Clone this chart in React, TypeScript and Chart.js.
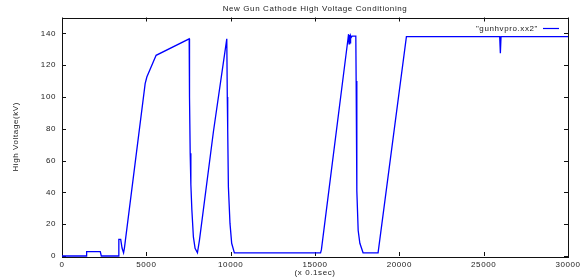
import { useEffect, useRef } from 'react';
import { Chart, registerables } from 'chart.js';

Chart.register(...registerables);

const TITLE = 'New Gun Cathode High Voltage Conditioning';
const X_LABEL = '(x 0.1sec)';
const Y_LABEL = 'High Voltage(kV)';
const SERIES_LABEL = '"gunhvpro.xx2"';

const X_TICKS = [0, 5000, 10000, 15000, 20000, 25000, 30000];
const Y_TICKS = [0, 20, 40, 60, 80, 100, 120, 140];

const timeValues = [
  0, 1440, 1460, 2270, 2330, 3350, 3370, 3480, 3560, 3650, 3700, 4930, 5030, 5580,
  7540, 7560, 7600, 7640, 7700, 7790, 7890, 8030, 8150, 8975, 9770, 9800, 9825, 9865,
  9960, 10060, 10220, 15330, 15380, 16950, 16990, 17020, 17050, 17080, 17110, 17150,
  17200, 17420, 17440, 17480, 17560, 17660, 17850, 18740, 20420, 25950, 25990,
  26030, 30000,
];
const voltageValues = [
  0, 0, 2.8, 2.8, 0, 0, 10.5, 10.5, 5, 2, 5, 108.4, 112.6, 126.2,
  136.6, 100, 64.6, 45, 28.9, 12, 4.8, 2, 10, 78, 136.6, 100, 79, 43.5,
  20.5, 8, 2, 2, 4, 136, 139.5, 133.5, 139, 134, 138.5, 137.5,
  138.3, 138.3, 110, 41, 16, 8, 2, 2, 138, 138, 127.6,
  138, 138,
];

const FONT = '"Liberation Sans", Arial, Helvetica, sans-serif';
const TEXT = '#222';

const framePlugin = {
  id: 'frame',
  beforeDraw(chart: any) {
    chart.ctx.letterSpacing = '0.6px';
  },
  beforeDatasetsDraw(chart: any) {
    const { ctx, chartArea: a, scales } = chart;
    const xs = scales.x;
    const ys = scales.y;
    ctx.save();
    ctx.strokeStyle = '#111';
    ctx.lineWidth = 1;
    ctx.strokeRect(Math.round(a.left) + 0.5, Math.round(a.top) + 0.5, Math.round(a.right - a.left), Math.round(a.bottom - a.top));
    const L = 4;
    ctx.beginPath();
    X_TICKS.forEach((v) => {
      const px = Math.round(xs.getPixelForValue(v)) + 0.5;
      ctx.moveTo(px, a.bottom);
      ctx.lineTo(px, a.bottom - L);
      ctx.moveTo(px, a.top);
      ctx.lineTo(px, a.top + L);
    });
    Y_TICKS.forEach((v) => {
      const py = Math.round(ys.getPixelForValue(v)) + 0.5;
      ctx.moveTo(a.left, py);
      ctx.lineTo(a.left + L, py);
      ctx.moveTo(a.right, py);
      ctx.lineTo(a.right - L, py);
    });
    ctx.stroke();
    ctx.restore();
  },
  afterDraw(chart: any) {
    const { ctx, chartArea: a } = chart;
    ctx.save();
    ctx.letterSpacing = '0.6px';
    ctx.fillStyle = TEXT;
    ctx.font = `8px ${FONT}`;
    ctx.textBaseline = 'middle';
    ctx.textAlign = 'center';
    ctx.fillText(TITLE, (a.left + a.right) / 2, 9);
    ctx.textAlign = 'right';
    ctx.fillText(SERIES_LABEL, a.right - 30, a.top + 11);
    ctx.strokeStyle = '#0000ff';
    ctx.lineWidth = 1.2;
    ctx.beginPath();
    ctx.moveTo(a.right - 25, a.top + 11);
    ctx.lineTo(a.right - 9, a.top + 11);
    ctx.stroke();
    ctx.restore();
  },
};

export default function App() {
  const ref = useRef<HTMLCanvasElement | null>(null);
  useEffect(() => {
    if (!ref.current) return;
    const points = timeValues.map((t, i) => ({ x: t, y: voltageValues[i] }));
    const chart = new Chart(ref.current, {
      type: 'line',
      data: {
        datasets: [
          {
            label: SERIES_LABEL,
            data: points,
            borderColor: '#0000ff',
            borderWidth: 1.3,
            pointRadius: 0,
            fill: false,
            tension: 0,
            clip: false as any,
          },
        ],
      },
      options: {
        responsive: false,
        animation: false,
        layout: { padding: { top: 17.5, right: 18, bottom: 0, left: 0 } },
        plugins: { legend: { display: false }, title: { display: false }, tooltip: { enabled: false } },
        font: { family: FONT, size: 8 },
        scales: {
          x: {
            type: 'linear',
            min: 0,
            max: 30000,
            grid: { display: false, drawTicks: false },
            border: { display: false },
            afterBuildTicks: (s: any) => {
              s.ticks = X_TICKS.map((v) => ({ value: v }));
            },
            afterFit: (s: any) => {
              s.height = 22;
            },
            ticks: {
              color: TEXT,
              font: { family: FONT, size: 8 },
              padding: 4,
              maxRotation: 0,
              autoSkip: false,
              callback: (v: any) => String(v),
            },
            title: { display: true, text: X_LABEL, color: TEXT, font: { family: FONT, size: 8 }, padding: { top: 0, bottom: 0.5 } },
          },
          y: {
            type: 'linear',
            min: 0,
            max: 150,
            grid: { display: false, drawTicks: false },
            border: { display: false },
            afterBuildTicks: (s: any) => {
              s.ticks = Y_TICKS.map((v) => ({ value: v }));
            },
            afterFit: (s: any) => {
              s.width = 62;
            },
            ticks: {
              color: TEXT,
              font: { family: FONT, size: 8 },
              padding: 6,
              autoSkip: false,
              callback: (v: any) => String(v),
            },
            title: { display: true, text: Y_LABEL, color: TEXT, font: { family: FONT, size: 8 }, padding: { top: 11, bottom: 0 } },
          },
        },
      } as any,
      plugins: [framePlugin],
    });
    return () => chart.destroy();
  }, []);
  return (
    <div style={{ position: 'absolute', left: 0, top: 0, width: 586, height: 278, background: '#fff' }}>
      <canvas ref={ref} width={586} height={278} />
    </div>
  );
}
